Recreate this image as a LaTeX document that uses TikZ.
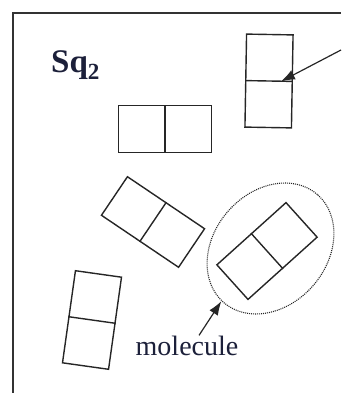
\documentclass[tikz,border=0pt]{standalone}
\usepackage{fontspec}
\setmainfont{Liberation Serif}
\usetikzlibrary{arrows.meta,shapes.geometric}
\definecolor{ink}{RGB}{28,32,58}

\begin{document}
\begin{tikzpicture}[x=1pt,y=-1pt,
        pair/.style={draw=black!85,line width=1.4pt,minimum width=93pt,minimum height=46.5pt,inner sep=0pt},
        tip/.style={-{Latex[length=14pt,width=10pt]},line width=1.2pt,black!85}]
    \useasboundingbox (0,0) rectangle (341,393);
    \draw[line width=1.6pt,black!80] (13,393) -- (13,13) -- (341,13);
    \node[anchor=base west,inner sep=0pt,text=ink,font=\fontsize{33}{33}\selectfont\bfseries] (title) at (51,73) {Sq\textsubscript{2}};
    % pairs of squares, each split in the middle
    \node[pair] (a) at (165,129) {};
    \node[pair,rotate=89] (b) at (269,81) {};
    \node[pair,rotate=-34] (c) at (153,222) {};
    \node[pair,rotate=42] (d) at (267,251) {};
    \node[pair,rotate=82] (e) at (92,320) {};
    \foreach \m in {a,b,c,d,e}
        \draw[black!85,line width=1.4pt] (\m.north) -- (\m.south);
    % dotted ring and its label
    \node[ellipse,draw=black!85,line width=1.1pt,dash pattern=on 1pt off 1pt,rotate=49,
        minimum width=143pt,minimum height=113pt,inner sep=0pt] (ring) at (270.5,248.5) {};
    \node[anchor=base,inner sep=0pt,text=ink,font=\fontsize{28}{28}\selectfont] (label) at (187,355) {molecule};
    \draw[tip] ([xshift=12pt]label.north) -- (ring.178);
    \coordinate (edge) at (341,50);
    \draw[tip] (edge) -- ([xshift=-12pt]b.south);
\end{tikzpicture}
\end{document}
